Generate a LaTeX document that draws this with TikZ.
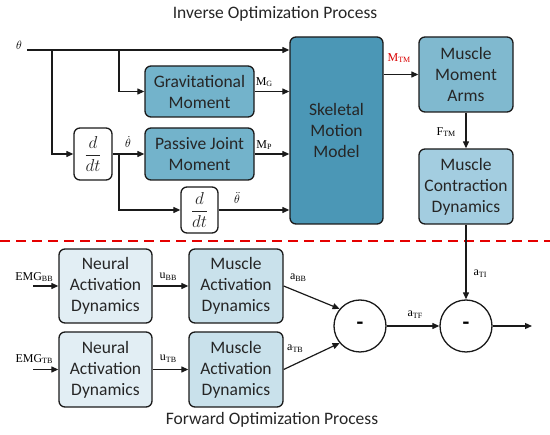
\documentclass[tikz,border=0pt]{standalone}
\usepackage{fontspec}
\setmainfont{Carlito}
\newfontfamily\lserif{Liberation Serif}
\usetikzlibrary{arrows.meta}
\definecolor{cskel}{HTML}{4B97B6}
\definecolor{cgrav}{HTML}{73B3CB}
\definecolor{cmma}{HTML}{80B9CF}
\definecolor{cmcd}{HTML}{A3CDE0}
\definecolor{cmad}{HTML}{C9E1EB}
\definecolor{cnad}{HTML}{E2EEF4}
\definecolor{cline}{HTML}{1A1A1A}
\newcommand\lab[2]{{\lserif\fontsize{12}{12}\selectfont #1\raisebox{-0.3ex}{\fontsize{8}{8}\selectfont #2}}}
\newcommand\ddt{\fontsize{17}{17}\selectfont$\displaystyle\frac{d\vphantom{t}}{dt}$}
\begin{document}
\begin{tikzpicture}[x=1pt,y=-1pt,
  blk/.style={draw=cline,line width=1.3pt,rounded corners=6pt,align=center,
    inner sep=0pt,font=\fontsize{17.5}{21}\selectfont,text=black!85},
  ddbox/.style={blk,fill=white},
  arr/.style={line width=1.2pt,draw=cline,-{Triangle[length=7pt,width=6pt]}},
  ln/.style={line width=1.2pt,draw=cline},
  sumc/.style={circle,draw=cline,line width=1.3pt,minimum size=52pt,inner sep=0pt,fill=white},
  lbl/.style={inner sep=0pt},
  ttl/.style={font=\fontsize{17.5}{20}\selectfont,text=black!85}]
\useasboundingbox (0,0) rectangle (550,435);
% titles
\node[ttl] (t1) at (275,14) {Inverse Optimization Process};
\node[ttl] (t2) at (272,420) {Forward Optimization Process};
% top blocks
\node[blk,fill=cskel,minimum width=93pt,minimum height=187pt] (skel) at (336.5,130.5) {Skeletal\\Motion\\Model};
\node[blk,fill=cgrav,minimum width=109pt,minimum height=51pt] (grav) at (199.5,91.5) {Gravitational\\Moment};
\node[blk,fill=cgrav,minimum width=109pt,minimum height=52pt] (pass) at (199.5,154) {Passive Joint\\Moment};
\node[ddbox,minimum width=38pt,minimum height=52pt] (dd1) at (93,154) {\ddt};
\node[ddbox,minimum width=37pt,minimum height=46pt] (dd2) at (199.5,210) {\ddt};
\node[blk,fill=cmma,minimum width=94pt,minimum height=75pt] (mma) at (466,74.5) {Muscle\\Moment\\Arms};
\node[blk,fill=cmcd,minimum width=94pt,minimum height=75pt] (mcd) at (466,186.5) {Muscle\\Contraction\\Dynamics};
% theta input
\coordinate (th) at (27,50);
\node[lbl,font=\fontsize{13}{13}\selectfont] (thl) at (19,45) {$\theta$};
\coordinate (b1) at (52,50);
\coordinate (b2) at (119,50);
\coordinate (b3) at (119,154);
\draw[arr] (th) -- (skel.west |- th);
\draw[arr] (b1) |- (dd1.west);
\draw[arr] (b2) |- (grav.west);
\draw[arr] (grav.east) -- (skel.west |- grav.east);
\draw[arr] (dd1.east) -- (pass.west);
\draw[arr] (pass.east) -- (skel.west |- pass.east);
\draw[arr] (b3) |- (dd2.west);
\draw[arr] (dd2.east) -- (skel.west |- dd2.east);
\draw[arr] (skel.east |- mma.west) -- (mma.west);
\draw[arr] (mma.south) -- (mcd.north);
% top labels
\node[lbl] (lmg) at (264,82) {\lab{M}{G}};
\node[lbl] (lmp) at (264,145) {\lab{M}{P}};
\node[lbl,font=\fontsize{13}{13}\selectfont] (ltd) at (128,142) {$\dot\theta$};
\node[lbl,font=\fontsize{13}{13}\selectfont] (ltdd) at (237,198) {$\ddot\theta$};
\node[lbl,text=red!85!black] (lmtm) at (399,58) {\lab{M}{TM}};
\node[lbl] (lftm) at (446,132) {\lab{F}{TM}};
% dashed separator
\coordinate (dl) at (0,241);
\coordinate (dr) at (550,241);
\draw[red!90!black,line width=1.8pt,dash pattern=on 10pt off 6pt] (dl) -- (dr);
% bottom blocks
\node[blk,fill=cnad,minimum width=93pt,minimum height=74pt] (nad1) at (105.5,286) {Neural\\Activation\\Dynamics};
\node[blk,fill=cnad,minimum width=93pt,minimum height=75pt] (nad2) at (105.5,369.5) {Neural\\Activation\\Dynamics};
\node[blk,fill=cmad,minimum width=94pt,minimum height=74pt] (mad1) at (236,286) {Muscle\\Activation\\Dynamics};
\node[blk,fill=cmad,minimum width=94pt,minimum height=75pt] (mad2) at (236,369.5) {Muscle\\Activation\\Dynamics};
\node[sumc] (c1) at (360,326) {\fontsize{22}{22}\selectfont\bfseries -};
\node[sumc] (c2) at (466,326) {\fontsize{22}{22}\selectfont\bfseries -};
\coordinate (e1) at (33,286);
\coordinate (e2) at (33,369.5);
\coordinate (out) at (532,326);
\draw[arr] (e1) -- (nad1.west);
\draw[arr] (e2) -- (nad2.west);
\draw[arr] (nad1.east) -- (mad1.west);
\draw[arr] (nad2.east) -- (mad2.west);
\draw[arr] (mad1.east) -- (c1.140);
\draw[arr] (mad2.east) -- (c1.220);
\draw[arr] (c1.east) -- (c2.west);
\draw[arr] (mcd.south) -- (c2.north);
\draw[arr] (c2.east) -- (out);
% bottom labels
\node[lbl] (lebb) at (34,277) {\lab{EMG}{BB}};
\node[lbl] (letb) at (34,359) {\lab{EMG}{TB}};
\node[lbl] (lubb) at (168,277) {\lab{u}{BB}};
\node[lbl] (lutb) at (168,359) {\lab{u}{TB}};
\node[lbl] (labb) at (298,278) {\lab{a}{BB}};
\node[lbl] (latb) at (295,349) {\lab{a}{TB}};
\node[lbl] (latf) at (415,315) {\lab{a}{TF}};
\node[lbl] (lati) at (480,274) {\lab{a}{TI}};
\end{tikzpicture}
\end{document}
